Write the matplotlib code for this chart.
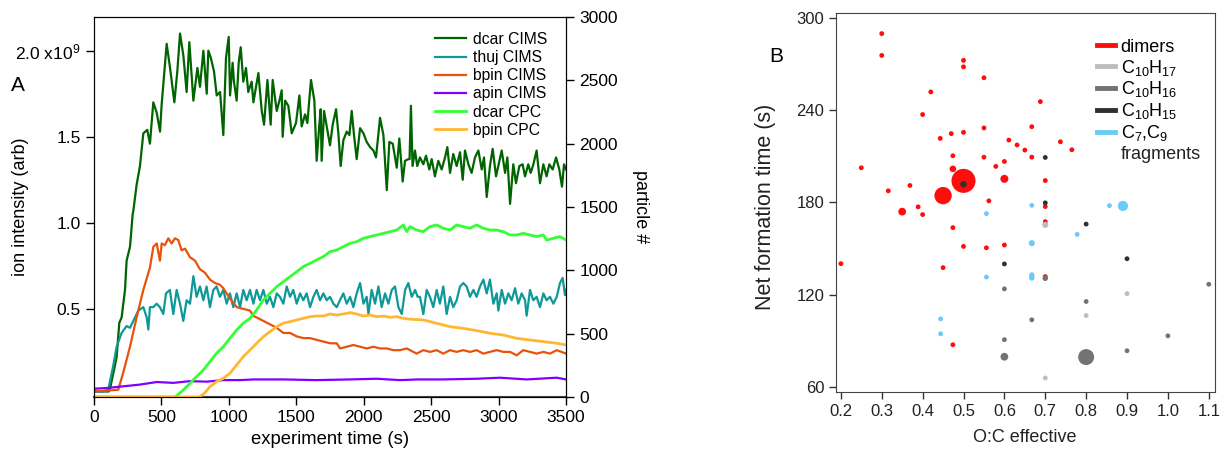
import matplotlib
matplotlib.use("Agg")
import matplotlib.pyplot as plt

plt.rcParams['font.family'] = ['Liberation Sans', 'DejaVu Sans']
plt.rcParams['mathtext.fontset'] = 'custom'
plt.rcParams['mathtext.rm'] = 'Liberation Sans'
plt.rcParams['mathtext.it'] = 'Liberation Sans:italic'

# ---- panel A: time series (CIMS in 1e9 arb, CPC in particle #) ----
dcar_cims_t = [0, 60, 110, 120, 150, 168, 188, 205, 230, 242, 267, 287, 292, 316, 341, 366, 395, 415,
               440, 465, 490, 502, 519, 539, 564, 596, 618, 638, 663, 687, 707, 737, 767, 786, 811,
               836, 848, 866, 890, 910, 935, 959, 979, 999, 1009, 1028, 1038, 1058, 1073, 1088, 1107,
               1127, 1144, 1169, 1182, 1219, 1244, 1261, 1286, 1310, 1325, 1355, 1375, 1392, 1399,
               1417, 1441, 1466, 1498, 1523, 1540, 1565, 1582, 1609, 1634, 1651, 1671, 1681, 1688,
               1706, 1730, 1750, 1770, 1795, 1812, 1829, 1849, 1874, 1894, 1911, 1928, 1948, 1973,
               1998, 2022, 2047, 2072, 2091, 2121, 2146, 2171, 2190, 2215, 2245, 2264, 2289, 2306,
               2331, 2340, 2350, 2362, 2380, 2397, 2417, 2442, 2462, 2486, 2504, 2528, 2553, 2578,
               2603, 2620, 2640, 2664, 2689, 2714, 2734, 2751, 2776, 2800, 2825, 2850, 2875, 2892,
               2912, 2936, 2956, 2981, 2998, 3023, 3048, 3065, 3085, 3109, 3129, 3154, 3178, 3196,
               3220, 3238, 3258, 3282, 3307, 3332, 3356, 3376, 3401, 3426, 3450, 3470, 3485, 3500]
dcar_cims = [0.02, 0.02, 0.02, 0.04, 0.15, 0.22, 0.42, 0.45, 0.61, 0.78, 0.86, 1.05, 1.07, 1.22, 1.33,
             1.52, 1.54, 1.46, 1.70, 1.64, 1.53, 1.69, 1.85, 2.04, 1.90, 1.70, 1.88, 2.10, 1.97, 1.76,
             2.05, 1.71, 1.90, 1.79, 2.00, 1.75, 2.00, 1.96, 1.88, 1.74, 1.76, 1.51, 1.96, 2.08, 1.74,
             1.93, 1.82, 1.71, 1.93, 2.02, 1.82, 1.90, 1.76, 1.82, 1.70, 1.87, 1.65, 1.57, 1.83, 1.57,
             1.83, 1.65, 1.71, 1.77, 1.50, 1.71, 1.68, 1.52, 1.58, 1.74, 1.56, 1.63, 1.58, 1.83, 1.71,
             1.36, 1.57, 1.66, 1.36, 1.65, 1.54, 1.45, 1.57, 1.66, 1.52, 1.33, 1.48, 1.53, 1.51, 1.65,
             1.51, 1.37, 1.55, 1.52, 1.47, 1.44, 1.42, 1.38, 1.61, 1.51, 1.19, 1.47, 1.46, 1.32, 1.49,
             1.24, 1.36, 1.37, 1.37, 1.68, 1.33, 1.42, 1.33, 1.38, 1.34, 1.39, 1.31, 1.37, 1.27, 1.36,
             1.31, 1.38, 1.44, 1.29, 1.40, 1.33, 1.41, 1.25, 1.42, 1.34, 1.29, 1.38, 1.42, 1.31, 1.38,
             1.15, 1.33, 1.43, 1.27, 1.33, 1.42, 1.29, 1.38, 1.11, 1.34, 1.23, 1.33, 1.34, 1.27, 1.34,
             1.29, 1.34, 1.42, 1.23, 1.34, 1.27, 1.34, 1.31, 1.38, 1.31, 1.21, 1.34, 1.31]

thuj_cims_t = [0, 60, 106, 143, 168, 205, 242, 267, 292, 329, 366, 391, 403, 415, 440, 465, 489, 514,
               534, 563, 588, 613, 638, 662, 687, 712, 737, 761, 786, 811, 835, 860, 885, 909, 934,
               959, 984, 1008, 1033, 1058, 1083, 1107, 1132, 1157, 1182, 1206, 1231, 1256, 1281, 1305,
               1330, 1355, 1379, 1404, 1429, 1454, 1478, 1503, 1528, 1552, 1577, 1602, 1627, 1651,
               1676, 1701, 1726, 1750, 1775, 1800, 1824, 1849, 1874, 1899, 1923, 1948, 1973, 1998,
               2022, 2035, 2059, 2084, 2109, 2133, 2158, 2183, 2208, 2232, 2257, 2282, 2307, 2331,
               2356, 2381, 2400, 2417, 2442, 2467, 2491, 2516, 2541, 2565, 2590, 2615, 2640, 2664,
               2689, 2714, 2738, 2763, 2788, 2813, 2837, 2862, 2887, 2912, 2936, 2961, 2986, 2998,
               3023, 3048, 3072, 3097, 3122, 3146, 3171, 3196, 3208, 3233, 3257, 3282, 3307, 3332,
               3356, 3381, 3406, 3431, 3455, 3475, 3492, 3500]
thuj_cims = [0.02, 0.02, 0.03, 0.17, 0.28, 0.36, 0.40, 0.39, 0.43, 0.49, 0.51, 0.45, 0.38, 0.51, 0.51,
             0.53, 0.51, 0.47, 0.59, 0.61, 0.47, 0.61, 0.53, 0.43, 0.55, 0.53, 0.69, 0.57, 0.63, 0.55,
             0.63, 0.51, 0.61, 0.63, 0.57, 0.61, 0.53, 0.59, 0.51, 0.59, 0.51, 0.61, 0.55, 0.61, 0.53,
             0.61, 0.55, 0.61, 0.53, 0.57, 0.51, 0.59, 0.57, 0.53, 0.63, 0.57, 0.61, 0.53, 0.59, 0.55,
             0.59, 0.51, 0.57, 0.61, 0.55, 0.59, 0.55, 0.57, 0.53, 0.51, 0.55, 0.59, 0.53, 0.57, 0.51,
             0.59, 0.65, 0.53, 0.57, 0.47, 0.61, 0.53, 0.63, 0.51, 0.59, 0.53, 0.61, 0.63, 0.51, 0.47,
             0.61, 0.65, 0.57, 0.61, 0.57, 0.57, 0.47, 0.61, 0.57, 0.51, 0.61, 0.53, 0.63, 0.47, 0.57,
             0.51, 0.55, 0.63, 0.65, 0.63, 0.57, 0.61, 0.57, 0.63, 0.67, 0.59, 0.67, 0.53, 0.59, 0.49,
             0.61, 0.53, 0.59, 0.55, 0.62, 0.53, 0.59, 0.55, 0.46, 0.61, 0.55, 0.57, 0.51, 0.59, 0.55,
             0.57, 0.53, 0.57, 0.65, 0.68, 0.58, 0.61]

bpin_cims_t = [0, 180, 217, 267, 316, 366, 415, 440, 465, 489, 502, 526, 551, 576, 600, 625, 650, 675,
               712, 749, 786, 823, 860, 897, 934, 959, 1008, 1058, 1107, 1157, 1181, 1206, 1256, 1305,
               1355, 1404, 1454, 1503, 1552, 1602, 1651, 1701, 1750, 1800, 1824, 1874, 1923, 1973,
               2022, 2072, 2121, 2171, 2220, 2269, 2319, 2368, 2392, 2442, 2491, 2541, 2590, 2640,
               2689, 2738, 2788, 2837, 2887, 2936, 2986, 3035, 3085, 3134, 3183, 3233, 3282, 3332,
               3381, 3431, 3500]
bpin_cims = [0.02, 0.03, 0.13, 0.28, 0.45, 0.61, 0.74, 0.86, 0.88, 0.78, 0.88, 0.87, 0.91, 0.88, 0.91,
             0.90, 0.84, 0.85, 0.80, 0.78, 0.73, 0.71, 0.67, 0.65, 0.64, 0.62, 0.56, 0.51, 0.50, 0.49,
             0.46, 0.45, 0.43, 0.41, 0.39, 0.36, 0.36, 0.34, 0.33, 0.33, 0.32, 0.31, 0.30, 0.30, 0.27,
             0.28, 0.29, 0.28, 0.27, 0.28, 0.27, 0.27, 0.26, 0.26, 0.27, 0.25, 0.24, 0.26, 0.25, 0.26,
             0.24, 0.26, 0.25, 0.26, 0.25, 0.26, 0.24, 0.25, 0.26, 0.25, 0.25, 0.23, 0.26, 0.25, 0.24,
             0.25, 0.24, 0.26, 0.24]

apin_cims_t = [0, 94, 217, 341, 465, 588, 712, 835, 959, 1083, 1181, 1404, 1651, 1899, 2096, 2269,
               2400, 2590, 2837, 3010, 3208, 3431, 3500]
apin_cims = [0.036, 0.040, 0.050, 0.060, 0.075, 0.070, 0.080, 0.077, 0.086, 0.086, 0.090, 0.090,
             0.086, 0.090, 0.094, 0.086, 0.090, 0.090, 0.094, 0.100, 0.090, 0.100, 0.090]

dcar_cpc_t = [0, 600, 613, 662, 712, 761, 811, 860, 909, 959, 1008, 1058, 1107, 1157, 1206, 1256, 1305,
              1355, 1404, 1454, 1503, 1552, 1602, 1651, 1701, 1750, 1800, 1849, 1899, 1948, 1998,
              2047, 2096, 2146, 2195, 2245, 2294, 2319, 2343, 2392, 2442, 2491, 2541, 2590, 2640,
              2689, 2738, 2788, 2837, 2887, 2936, 2986, 3035, 3085, 3134, 3183, 3233, 3282, 3332,
              3356, 3406, 3455, 3500]
dcar_cpc = [0, 0, 10, 55, 108, 161, 213, 279, 345, 397, 463, 529, 582, 621, 687, 766, 818, 871, 910,
            950, 989, 1029, 1055, 1082, 1108, 1147, 1160, 1187, 1213, 1226, 1253, 1266, 1279, 1292,
            1305, 1318, 1358, 1305, 1345, 1318, 1305, 1345, 1358, 1332, 1318, 1358, 1345, 1332, 1358,
            1332, 1318, 1318, 1305, 1279, 1279, 1292, 1279, 1266, 1279, 1239, 1253, 1266, 1239]

bpin_cpc_t = [0, 780, 820, 860, 909, 959, 1008, 1058, 1107, 1157, 1206, 1256, 1305, 1355, 1404, 1454,
              1503, 1552, 1602, 1651, 1701, 1750, 1800, 1849, 1899, 1948, 1998, 2047, 2096, 2146,
              2195, 2245, 2294, 2343, 2442, 2541, 2640, 2738, 2837, 2936, 3035, 3134, 3233, 3332,
              3431, 3500]
bpin_cpc = [0, 0, 30, 82, 121, 147, 187, 253, 318, 371, 424, 476, 516, 555, 582, 595, 608, 621, 634,
            639, 639, 655, 647, 655, 666, 655, 639, 647, 634, 639, 629, 634, 621, 614, 608, 582, 555,
            542, 524, 503, 489, 463, 450, 437, 424, 411]

# ---- panel B: O:C effective vs net formation time, bubble = signal ----
dimer_oc = [0.30, 0.30, 0.50, 0.50, 0.55, 0.42, 0.40, 0.688, 0.55, 0.50, 0.47, 0.443, 0.667, 0.611,
            0.631, 0.65, 0.737, 0.765, 0.474, 0.55, 0.667, 0.25, 0.579, 0.60, 0.474, 0.50, 0.45,
            0.60, 0.70, 0.316, 0.369, 0.562, 0.70, 0.35, 0.389, 0.40, 0.474, 0.70, 0.50, 0.556,
            0.60, 0.20, 0.45, 0.70, 0.474]
dimer_time = [289.6, 275.4, 272.2, 268.0, 260.9, 251.7, 237.0, 245.4, 228.3, 225.4, 224.6, 221.5,
              229.1, 220.4, 217.2, 213.9, 219.3, 214.1, 210.2, 209.3, 209.3, 202.4, 203.3, 206.5,
              201.7, 193.9, 184.3, 195.2, 194.1, 187.4, 190.9, 180.9, 177.2, 173.9, 177.0, 172.0,
              163.5, 167.4, 151.3, 150.4, 152.2, 140.1, 137.5, 131.7, 87.4]
dimer_sig = [1, 1, 1, 1, 1, 1, 1, 1, 1, 1, 1, 1, 1, 1, 1, 1, 1, 1, 1, 1, 1, 1, 1, 1, 1.9, 25, 13,
             2.8, 1, 1, 1, 1, 1, 2.6, 1, 1, 1, 1, 1, 1, 1, 1, 1, 1, 1]

c10h17_oc = [0.70, 0.90, 0.80, 0.70]
c10h17_time = [165.3, 120.6, 106.4, 65.8]
c10h17_sig = [1.6, 1, 1, 1]

c10h16_oc = [0.70, 0.60, 0.80, 0.667, 0.60, 1.10, 1.00, 0.90, 0.60, 0.80]
c10h16_time = [130.6, 123.7, 115.5, 103.6, 90.7, 126.7, 93.2, 83.5, 79.6, 79.4]
c10h16_sig = [1.3, 1, 1, 1, 1, 1, 1, 1, 2.6, 11]

c10h15_oc = [0.70, 0.50, 0.70, 0.80, 0.60, 0.90]
c10h15_time = [209.1, 191.7, 179.6, 165.8, 139.9, 143.3]
c10h15_sig = [1, 1.8, 1, 1, 1, 1]

frag_oc = [0.556, 0.667, 0.857, 0.89, 0.778, 0.667, 0.556, 0.667, 0.667, 0.444, 0.444]
frag_time = [172.6, 178.0, 177.8, 177.6, 159.1, 153.4, 131.4, 132.7, 130.8, 104.2, 94.5]
frag_sig = [1, 1, 1, 4.5, 1, 1.6, 1, 1.3, 1.3, 1, 1]

fig = plt.figure(figsize=(12.22, 4.55), dpi=100)

# ---------------- A ----------------
ax = fig.add_axes([0.0769, 0.1275, 0.3863, 0.8352])
ax2 = ax.twinx()

l1, = ax.plot(dcar_cims_t, dcar_cims, color='#006400', lw=1.6, label='dcar CIMS')
l2, = ax.plot(thuj_cims_t, thuj_cims, color='#0f9898', lw=1.6, label='thuj CIMS')
l3, = ax.plot(bpin_cims_t, bpin_cims, color='#e8520c', lw=1.6, label='bpin CIMS')
l4, = ax.plot(apin_cims_t, apin_cims, color='#8000ff', lw=1.6, label='apin CIMS')
l5, = ax2.plot(dcar_cpc_t, dcar_cpc, color='#33ff33', lw=2.0, label='dcar CPC')
l6, = ax2.plot(bpin_cpc_t, bpin_cpc, color='#ffb733', lw=2.0, label='bpin CPC')

ax.set_xlim(0, 3500)
ax.set_ylim(-0.012, 2.196)
ax2.set_ylim(0, 3000)
ax.set_xticks(range(0, 3501, 500))
ax.set_yticks([0.5, 1.0, 1.5, 2.0])
ax.set_yticklabels(['0.5', '1.0', '1.5', '2.0 x10$^{9}$'])
ax2.set_yticks(range(0, 3001, 500))

for a in (ax, ax2):
    a.tick_params(direction='out', length=6, width=1, labelsize=12.5, colors='black')
ax.spines['bottom'].set_color('#444444')
ax.spines['bottom'].set_linewidth(1.5)

ax.set_xlabel('experiment time (s)', fontsize=13.3)
ax.xaxis.set_label_coords(0.5, -0.113)
ax.xaxis.label.set_va('center')
ax.set_ylabel('ion intensity (arb)', fontsize=13, va='center')
ax.yaxis.set_label_coords(-0.155, 0.5)
ax2.set_ylabel('particle #', fontsize=13, rotation=270, va='center', ha='center')
ax2.yaxis.set_label_coords(1.157, 0.5)

ax.legend(handles=[l1, l2, l3, l4, l5, l6], loc='upper left',
          bbox_to_anchor=((435 - 94) / 472, (397 - 32) / 380), frameon=False,
          fontsize=11.3, borderpad=0, borderaxespad=0, handlelength=2.0,
          handletextpad=0.45, labelspacing=0.2)

fig.text(0.0147, 0.813, 'A', fontsize=15, ha='center', va='center')

# ---------------- B ----------------
bx = fig.add_axes([0.6841, 0.1385, 0.3101, 0.833])
k = 12
groups = [
    (dimer_oc, dimer_time, dimer_sig, '#ff0d0d', 'dimers'),
    (c10h17_oc, c10h17_time, c10h17_sig, '#bdbdbd', 'C$_{10}$H$_{17}$'),
    (c10h16_oc, c10h16_time, c10h16_sig, '#737373', 'C$_{10}$H$_{16}$'),
    (c10h15_oc, c10h15_time, c10h15_sig, '#303030', 'C$_{10}$H$_{15}$'),
    (frag_oc, frag_time, frag_sig, '#6ccaf8', 'C$_{7}$,C$_{9}$'),
]
handles = []
for oc, t, sig, col, lab in groups:
    bx.scatter(oc, t, s=[k * v for v in sig], color=col, edgecolors='none', zorder=2)
    h, = bx.plot([], [], color=col, lw=3.5, label=lab)
    handles.append(h)

bx.set_xlim(0.188, 1.115)
bx.set_ylim(56.7, 303)
bx.set_xticks([0.2, 0.3, 0.4, 0.5, 0.6, 0.7, 0.8, 0.9, 1.0, 1.1])
bx.set_xticklabels(['0.2', '0.3', '0.4', '0.5', '0.6', '0.7', '0.8', '0.9', '1.0', '1.1'])
bx.set_yticks([60, 120, 180, 240, 300])
bx.tick_params(direction='out', length=5, width=1, labelsize=12, colors='#333333',
               labelcolor='#222222')
for sp in bx.spines.values():
    sp.set_color('#444444')

bx.set_xlabel('O:C effective', fontsize=13, color='#222222', va='center')
bx.xaxis.set_label_coords(0.499, -0.119)
bx.set_ylabel('Net formation time (s)', fontsize=15.5, color='#222222', va='center')
bx.yaxis.set_label_coords(-0.185, 0.488)

bx.legend(handles=handles, loc='upper left', bbox_to_anchor=(0.689, 0.932), frameon=False,
          fontsize=13, borderpad=0, borderaxespad=0, handlelength=1.0, handletextpad=0.3,
          labelspacing=0.1)
bx.text(0.752, 0.626, 'fragments', transform=bx.transAxes, fontsize=13, color='#222222',
        ha='left', va='center')

fig.text(0.635, 0.875, 'B', fontsize=15, ha='center', va='center')

fig.savefig('out.png', dpi=100)
